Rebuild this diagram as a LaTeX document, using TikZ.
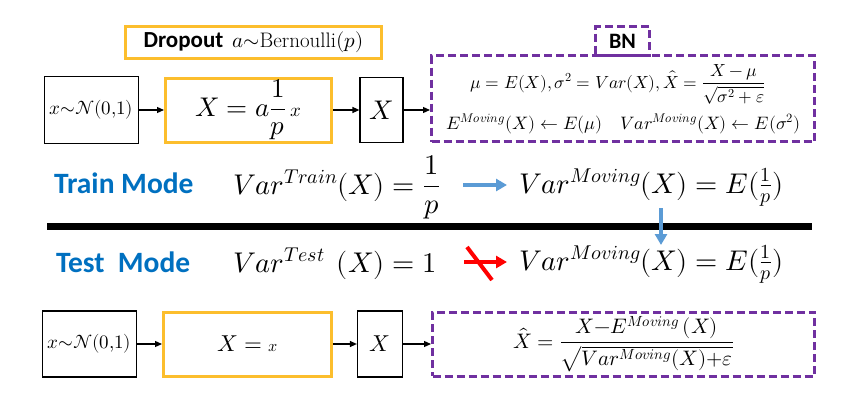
\documentclass[tikz,border=0pt]{standalone}
\usepackage{fontspec}
\usepackage{unicode-math}
\newfontfamily\carl{Carlito}
\usetikzlibrary{arrows.meta}
\definecolor{gold}{RGB}{252,190,45}
\definecolor{bnpurple}{RGB}{112,48,160}
\definecolor{modeblue}{RGB}{0,112,192}
\definecolor{arrblue}{RGB}{91,155,213}
\definecolor{crossred}{RGB}{255,0,0}
\newcommand{\fsz}[1]{\fontsize{#1}{#1}\selectfont}
\begin{document}
\begin{tikzpicture}[x=1pt,y=-1pt,
  plainbox/.style={draw=black, line width=1.2pt, inner sep=0pt},
  goldbox/.style={draw=gold, line width=3pt, inner sep=0pt},
  bnbox/.style={draw=bnpurple, line width=3pt, dash pattern=on 8pt off 4pt, inner sep=0pt},
  flow/.style={-{Triangle[length=7pt,width=6pt]}, line width=1.2pt},
  bigarrow/.style={-{Triangle[length=11pt,width=12pt]}, line width=4pt},
  lbl/.style={inner sep=0pt, outer sep=0pt},
]
\useasboundingbox (0,0) rectangle (854,410);

% ---- top row ----
\node[goldbox, minimum width=256pt, minimum height=32pt] (drop) at (253.5,42.5)
  {{\carl\bfseries\fsz{23}Dropout}\hspace{9pt}\fsz{21}$a{\sim}\mathrm{Bernoulli}(p)$};
\node[plainbox, minimum width=94pt, minimum height=67pt] (xn1) at (91.5,110)
  {\fsz{19}$x{\sim}\mathcal{N}(0{,}1)$};
\node[goldbox, minimum width=166pt, minimum height=64pt] (dx1) at (248.5,110)
  {\fsz{27}$X = a\dfrac{1}{p}\,{\scriptstyle x}$};
\node[plainbox, minimum width=43pt, minimum height=65pt] (xb1) at (381.5,110)
  {\fsz{27}$X$};
\node[bnbox, minimum width=383pt, minimum height=86pt] (bn1) at (623,98.5) {};
\node[bnbox, minimum width=54pt, minimum height=29pt] (bntab) at (622.5,41)
  {\carl\bfseries\fsz{22}BN};
\node[lbl, anchor=base] (bnl1) at (618,88)
  {\fsz{17.5}$\mu = E(X),\sigma^2 = Var(X),\hat{X} = \dfrac{X-\mu}{\sqrt{\sigma^2+\varepsilon}}$};
\node[lbl, anchor=base] (bnl2) at (623.5,129)
  {\fsz{18}$E^{Moving}(X) \leftarrow E(\mu)\quad Var^{Moving}(X) \leftarrow E(\sigma^2)$};

\draw[flow] (xn1.east) -- (dx1.west);
\draw[flow] (dx1.east) -- (xb1.west);
\draw[flow] (xb1.east) -- (xb1.east -| bn1.west);

% ---- middle ----
\node[lbl, anchor=base west, text=modeblue] (train) at (54,193)
  {\carl\bfseries\fsz{29.5}Train Mode};
\node[lbl, anchor=base west] (vtrain) at (233,194)
  {\fsz{28.5}$Var^{Train}(X) = \dfrac{1}{p}$};
\node[lbl, anchor=base west] (vmov1) at (519,193)
  {\fsz{28.5}$Var^{Moving}(X) = E(\tfrac{1}{p})$};
\coordinate (a1s) at (463,185);
\coordinate (a1e) at (507,185);
\draw[bigarrow, arrblue] (a1s) -- (a1e);

\coordinate (sepL) at (47,226);
\coordinate (sepR) at (812,226);
\draw[line width=7pt] (sepL) -- (sepR);

\coordinate (vA) at (661,208);
\coordinate (vB) at (661,245);
\draw[bigarrow, arrblue] (vA) -- (vB);

\node[lbl, anchor=base west, text=modeblue] (test) at (56,272)
  {\carl\bfseries\fsz{29.5}Test\ \ Mode};
\node[lbl, anchor=base west] (vtest) at (233,272)
  {\fsz{28.5}$Var^{Test}\hspace{12pt}(X) = 1$};
\node[lbl, anchor=base west] (vmov2) at (519,270)
  {\fsz{28.5}$Var^{Moving}(X) = E(\tfrac{1}{p})$};
\coordinate (r1s) at (464,262);
\coordinate (r1e) at (507,262);
\draw[bigarrow, crossred] (r1s) -- (r1e);
\coordinate (c1) at (467,247);
\coordinate (c2) at (492,280);
\draw[crossred, line width=4pt] (c1) -- (c2);

% ---- bottom row ----
\node[plainbox, minimum width=94pt, minimum height=66pt] (xn2) at (89.5,344)
  {\fsz{19}$x{\sim}\mathcal{N}(0{,}1)$};
\node[goldbox, minimum width=168pt, minimum height=64pt] (dx2) at (247.5,344)
  {\fsz{23}$X = {\scriptstyle x}$};
\node[plainbox, minimum width=45pt, minimum height=66pt] (xb2) at (380,344)
  {\fsz{23}$X$};
\node[bnbox, minimum width=382pt, minimum height=64pt] (bn2) at (623.5,344)
  {\fsz{21}$\hat{X} = \dfrac{X{-}E^{Moving}\,(X)}{\sqrt{Var^{Moving}(X){+}\varepsilon}}$};

\draw[flow] (xn2.east) -- (dx2.west);
\draw[flow] (dx2.east) -- (xb2.west);
\draw[flow] (xb2.east) -- (bn2.west);
\end{tikzpicture}
\end{document}
